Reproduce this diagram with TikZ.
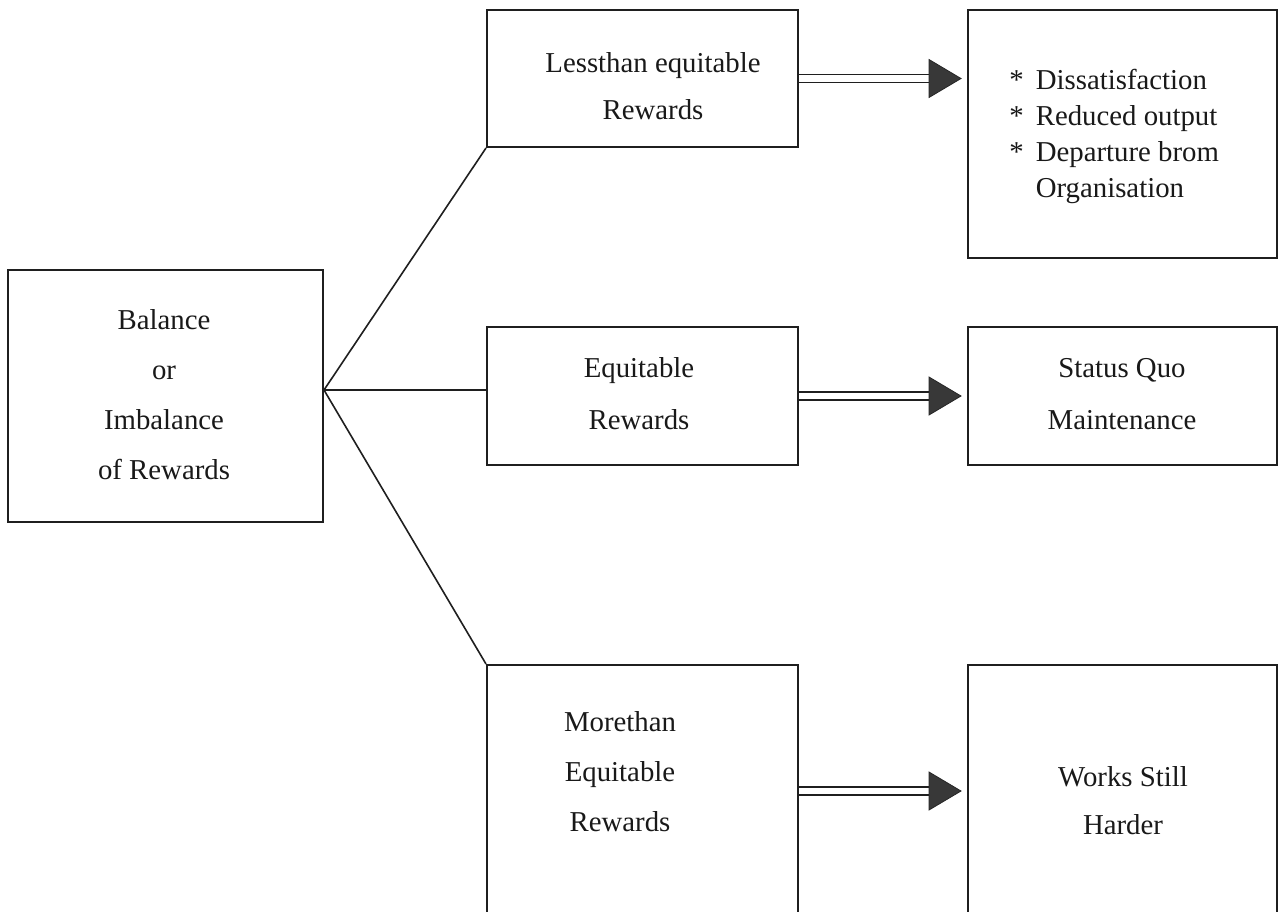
\documentclass[tikz,border=0pt]{standalone}
\usepackage{fontspec}
\setmainfont{Liberation Serif}
\usetikzlibrary{calc}
\begin{document}
\begin{tikzpicture}[x=0.5pt,y=-0.5pt,
  box/.style={draw=black!88,line width=1pt,inner sep=0pt,minimum width=155.5pt},
  txt/.style={align=center,inner sep=0pt,text=black!90},
  conn/.style={draw=black!88,line width=0.8pt},
  dline/.style={draw=black!88,line width=0.85pt},
  head/.style={fill=black!78,draw=black!85,line width=0.4pt,line join=miter}]
\clip (0,0) rectangle (1279,911);
\fill[white] (0,0) rectangle (1279,911);
% boxes
\node[box,minimum width=157.5pt,minimum height=126pt] (L) at (165.5,396) {};
\node[box,minimum height=68.5pt] (A) at (642.5,78.5) {};
\node[box,minimum height=69pt] (B) at (642.5,396) {};
\node[box,minimum height=126pt] (C) at (642.5,791) {};
\node[box,minimum width=154.5pt,minimum height=124pt] (R1) at (1122.5,134) {};
\node[box,minimum width=154.5pt,minimum height=69pt] (R2) at (1122.5,396) {};
\node[box,minimum width=154.5pt,minimum height=126pt] (R3) at (1122.5,791) {};
% texts
\node[txt,font=\fontsize{14.4}{25}\selectfont] (tL) at (164,394.5) {Balance\\or\\Imbalance\\of Rewards};
\node[txt,font=\fontsize{14.4}{23.5}\selectfont] (tA) at (653,86.5) {Lessthan equitable\\Rewards};
\node[txt,font=\fontsize{14.4}{26}\selectfont] (tB) at (639,394) {Equitable\\Rewards};
\node[txt,font=\fontsize{14.4}{25}\selectfont] (tC) at (620,772) {Morethan\\Equitable\\Rewards};
\node[txt,font=\fontsize{14.4}{26}\selectfont] (tR2) at (1122,394) {Status Quo\\Maintenance};
\node[txt,font=\fontsize{14.4}{24}\selectfont] (tR3) at (1123,801) {Works Still\\Harder};
\node[txt,anchor=west,font=\fontsize{14.4}{18}\selectfont] (tR1) at (1009,136)
  {\begin{tabular}{@{}l@{\hspace{6pt}}l@{}}{*}&Dissatisfaction\\{*}&Reduced output\\{*}&Departure brom\\{}&Organisation\end{tabular}};
% branch connectors
\coordinate (J) at ($(L.east)+(0,-6)$);
\draw[conn] (J) -- (A.south west);
\draw[conn] (J) -- (B.west |- J);
\draw[conn] (J) -- (C.north west);
% double arrows
\foreach \s/\t in {A/R1,B/R2,C/R3}{
  \coordinate (p\s) at (\s.east);
  \coordinate (q\s) at (\t.west |- p\s);
  \draw[dline] ($(p\s)+(0,-4)$) -- ($(q\s)+(-36,-4)$);
  \draw[dline] ($(p\s)+(0,4)$) -- ($(q\s)+(-36,4)$);
  \path[head] ($(q\s)+(-38,-19)$) -- ($(q\s)+(-6,0)$) -- ($(q\s)+(-38,19)$) -- cycle;
}
\end{tikzpicture}
\end{document}
